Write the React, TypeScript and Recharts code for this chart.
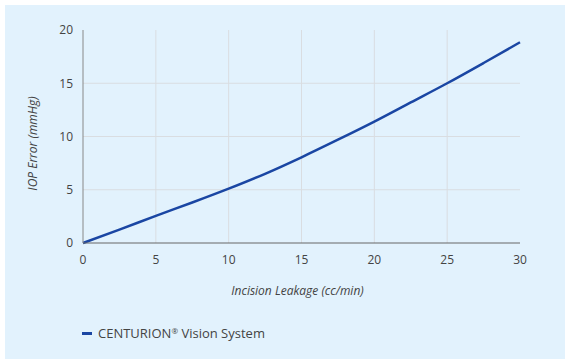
import { LineChart, Line, XAxis, YAxis, ReferenceLine, Legend } from 'recharts';

const leakage = [0, 2.5, 5, 7.5, 10, 12.5, 15, 17.5, 20, 22.5, 25, 27.5, 30];
const iopError = [0, 1.25, 2.55, 3.8, 5.1, 6.5, 8.05, 9.7, 11.4, 13.2, 15.0, 16.9, 18.85];
const xTicks = [0, 5, 10, 15, 20, 25, 30];
const yTicks = [0, 5, 10, 15, 20];
const gridX = [5, 10, 15, 20, 25];
const gridY = [5, 10, 15];
const seriesName = 'CENTURION® Vision System';

const data = leakage.map((x, i) => ({ x, y: iopError[i] }));

const LINE = '#1a46a3';
const TEXT = '#444';
const GRID = '#d9dde1';
const AXIS = '#666';

const YTitle = ({ viewBox }: any) => {
  const cx = viewBox.x + 37;
  const cy = viewBox.y + viewBox.height / 2 + 7;
  return (
    <text
      x={cx}
      y={cy}
      transform={`rotate(-90, ${cx}, ${cy})`}
      textAnchor="middle"
      fill={TEXT}
      fontSize={12}
      fontStyle="italic"
    >
      IOP Error (mmHg)
    </text>
  );
};

const XTitle = ({ viewBox }: any) => (
  <text
    x={viewBox.x + viewBox.width / 2 - 4}
    y={viewBox.y + 52}
    textAnchor="middle"
    fill={TEXT}
    fontSize={12}
    fontStyle="italic"
  >
    Incision Leakage (cc/min)
  </text>
);

// the ® mark is drawn small and raised, as in the original
const legendText = (s: string) => {
  const parts = s.split('®');
  return parts.map((p, i) => (
    <span key={i}>
      {p}
      {i < parts.length - 1 && (
        <sup style={{ fontSize: 8, verticalAlign: 'top', lineHeight: '16px' }}>®</sup>
      )}
    </span>
  ));
};

const LegendContent = ({ payload }: any) => (
  <div style={{ height: 20, display: 'flex', alignItems: 'center' }}>
    {(payload || []).map((p: any) => (
      <div key={p.value} style={{ display: 'flex', alignItems: 'center' }}>
        <span style={{ width: 10, height: 3, background: p.color, display: 'inline-block', marginRight: 6 }} />
        <span style={{ fontSize: 13, color: TEXT, lineHeight: '20px' }}>{legendText(p.value)}</span>
      </div>
    ))}
  </div>
);

export default function App() {
  return (
    <div style={{ position: 'absolute', left: 0, top: 0, width: 574, height: 362, background: '#fff' }}>
      <div style={{ position: 'absolute', left: 5, top: 5, width: 560, height: 354, background: '#e2f2fd' }} />
      <div style={{ position: 'absolute', left: 0, top: 0 }}>
        <LineChart
          width={574}
          height={362}
          data={data}
          margin={{ top: 30, right: 54, bottom: 39, left: 0 }}
          style={{ fontFamily: '"Open Sans", sans-serif' }}
        >
          {gridX.map((v) => (
            <ReferenceLine key={'x' + v} x={v} stroke={GRID} strokeWidth={1} />
          ))}
          {gridY.map((v) => (
            <ReferenceLine key={'y' + v} y={v} stroke={GRID} strokeWidth={1} />
          ))}
          <XAxis
            dataKey="x"
            type="number"
            domain={[0, 30]}
            ticks={xTicks}
            tickLine={false}
            tickMargin={6}
            height={60}
            stroke={AXIS}
            tick={{ fill: TEXT, fontSize: 12 }}
            label={<XTitle />}
          />
          <YAxis
            type="number"
            domain={[0, 20]}
            ticks={yTicks}
            tickLine={false}
            tickMargin={4}
            width={83}
            stroke="#888"
            tick={{ fill: TEXT, fontSize: 12 }}
            label={<YTitle />}
          />
          <Legend
            verticalAlign="bottom"
            align="left"
            content={<LegendContent />}
            wrapperStyle={{ left: 82, top: 323, bottom: 'auto', width: 300 }}
          />
          <Line
            type="monotone"
            dataKey="y"
            name={seriesName}
            stroke={LINE}
            strokeWidth={2.5}
            dot={false}
            activeDot={false}
            isAnimationActive={false}
          />
        </LineChart>
      </div>
    </div>
  );
}
